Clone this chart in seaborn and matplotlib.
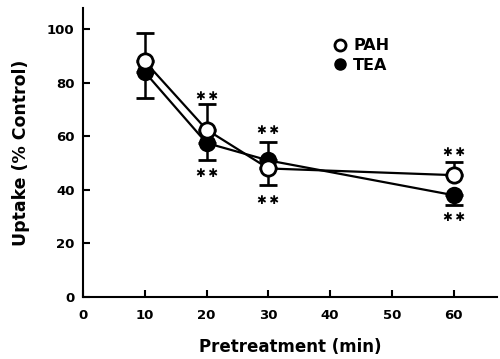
import matplotlib
matplotlib.use("Agg")
import matplotlib.pyplot as plt
from matplotlib.lines import Line2D
import seaborn as sns
import pandas as pd

times = [10, 20, 30, 60]
pah = [88, 62.5, 48, 45.5]
tea = [84, 57.5, 51, 38]
pah_err_up = [10.5, 9.5, 0, 5]
pah_err_dn = [0, 0, 6, 0]
tea_err_up = [0, 0, 7, 0]
tea_err_dn = [9.5, 6.5, 0, 3.5]
star_above = [None, 75, 62, 54]
star_below = [None, 46, 36, 29.5]

sns.set_style("ticks")
plt.rcParams['font.family'] = ['DejaVu Sans']
plt.rcParams['font.weight'] = 'bold'
for k in ['text.color', 'axes.labelcolor', 'xtick.color', 'ytick.color', 'axes.edgecolor']:
    plt.rcParams[k] = 'black'

fig = plt.figure(figsize=(5, 3.59), dpi=100)
ax = fig.add_axes([0.166, 0.173, 0.828, 0.805])

df = pd.DataFrame({"t": times * 2, "v": pah + tea,
                   "s": ["PAH"] * 4 + ["TEA"] * 4})

# error bars (one-sided)
ax.errorbar(times, pah, yerr=[pah_err_dn, pah_err_up], fmt='none',
            ecolor='black', elinewidth=1.8, capsize=6.5, capthick=2, zorder=2)
ax.errorbar(times, tea, yerr=[tea_err_dn, tea_err_up], fmt='none',
            ecolor='black', elinewidth=1.8, capsize=6.5, capthick=2, zorder=2)

sns.lineplot(data=df[df.s == "TEA"], x="t", y="v", ax=ax, color='black',
             lw=1.6, marker='o', markersize=11, markerfacecolor='black',
             markeredgecolor='black', markeredgewidth=1.5, zorder=3)
sns.lineplot(data=df[df.s == "PAH"], x="t", y="v", ax=ax, color='black',
             lw=1.6, marker='o', markersize=11, markerfacecolor='white',
             markeredgecolor='black', markeredgewidth=2, zorder=4)

for t, a, b in zip(times, star_above, star_below):
    if a is not None:
        ax.text(t, a, "\u2731\u2009\u2731", ha='center', va='center', fontsize=8.5)
    if b is not None:
        ax.text(t, b, "\u2731\u2009\u2731", ha='center', va='center', fontsize=8.5)

ax.set_xlim(0, 67)
ax.set_ylim(0, 108)
ax.set_xticks([0, 10, 20, 30, 40, 50, 60])
ax.set_yticks([0, 20, 40, 60, 80, 100])
ax.tick_params(direction='in', length=5, width=1.5, labelsize=9.5)
ax.tick_params(axis='x', pad=9)
ax.tick_params(axis='y', pad=6)
for lab in ax.get_xticklabels() + ax.get_yticklabels():
    lab.set_fontweight('bold')
sns.despine(ax=ax)
for sp in ['left', 'bottom']:
    ax.spines[sp].set_linewidth(1.5)

ax.set_xlabel("Pretreatment (min)", fontsize=12, fontweight='bold', labelpad=11)
ax.set_ylabel("Uptake (% Control)", fontsize=12.5, fontweight='bold', labelpad=12)

handles = [Line2D([], [], ls='none', marker='o', markersize=8, markerfacecolor='white',
                  markeredgecolor='black', markeredgewidth=2),
           Line2D([], [], ls='none', marker='o', markersize=8, markerfacecolor='black',
                  markeredgecolor='black')]
leg = ax.legend(handles, ["PAH", "TEA"], loc='upper left', bbox_to_anchor=(0.56, 0.945),
                frameon=False, handletextpad=0.1, labelspacing=0.3, handlelength=1.4,
                prop={'weight': 'bold', 'size': 11.5})

fig.savefig("out.png", dpi=100)
